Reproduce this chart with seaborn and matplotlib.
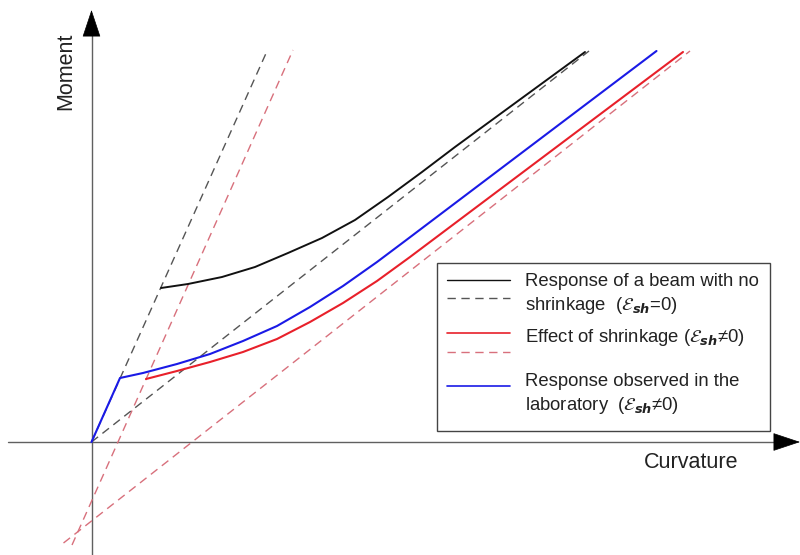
import matplotlib
matplotlib.use("Agg")
import matplotlib.pyplot as plt
import seaborn as sns
import pandas as pd
from matplotlib.patches import Rectangle

# ---------------- data (curvature, moment) ----------------
no_shrink_x = [69.5, 96.5, 130.5, 163.5, 196.5, 230.5, 263.5, 296.5, 330.5, 363.5, 493.5]
no_shrink_y = [154, 158, 165, 175, 189, 204, 222, 245, 270, 295, 390]

lab_x = [0, 28.5, 51.5, 85.5, 118.5, 151.5, 185.5, 218.5, 251.5, 285.5, 313.5, 565]
lab_y = [0, 64, 69, 78, 88, 101, 116, 135, 156, 180, 201, 391]

shrink_x = [54.5, 85.5, 118.5, 151.5, 185.5, 218.5, 251.5, 285.5, 318.5, 591.5]
shrink_y = [63, 71, 80, 90, 103, 120, 139, 161, 185, 390]

# dashed reference lines (end points)
uncracked_x = [0, 176]
uncracked_y = [0, 392]
uncracked_sh_x = [-19.5, 201.5]
uncracked_sh_y = [-103, 392]
cracked_x = [0, 497.5]
cracked_y = [0, 391]
cracked_sh_x = [-28, 598.5]
cracked_sh_y = [-101, 391]

x_label = "Curvature"
y_label = "Moment"
legend_texts = [
    "Response of a beam with no",
    r"shrinkage  ($\mathcal{E}_{\mathbfit{sh}}$=0)",
    r"Effect of shrinkage ($\mathcal{E}_{\mathbfit{sh}}$≠0)",
    "Response observed in the",
    r"laboratory  ($\mathcal{E}_{\mathbfit{sh}}$≠0)",
]

# ---------------- style ----------------
sns.set_theme(style="white")
plt.rcParams["font.family"] = ["Liberation Sans", "DejaVu Sans"]
plt.rcParams["mathtext.fontset"] = "dejavusans"

fig = plt.figure(figsize=(8, 5.55), dpi=100)
ax = fig.add_axes([0, 0, 1, 1])
ax.set_xlim(-91.5, 708.5)
ax.set_ylim(-113, 442)
ax.set_axis_off()

BLACK = "#111111"
BLACK_D = "#555555"
RED = "#e8202a"
RED_D = "#d8707c"
BLUE = "#1a1ae6"
dash = (0, (6, 4))

def line(xs, ys, color, lw, ls="-", z=3):
    df = pd.DataFrame({"x": xs, "y": ys})
    sns.lineplot(data=df, x="x", y="y", ax=ax, color=color, lw=lw,
                 linestyle=ls, sort=False, estimator=None, zorder=z)

line(uncracked_x, uncracked_y, BLACK_D, 1.0, dash)
line(uncracked_sh_x, uncracked_sh_y, RED_D, 1.0, dash)
line(cracked_x, cracked_y, BLACK_D, 1.0, dash)
line(cracked_sh_x, cracked_sh_y, RED_D, 1.0, dash)
line(no_shrink_x, no_shrink_y, BLACK, 1.4)
line(shrink_x, shrink_y, RED, 1.5)
line(lab_x, lab_y, BLUE, 1.5)

# axes with arrows
AX_C = "#606060"
ax.plot([-83.5, 690], [0, 0], color=AX_C, lw=1.0, zorder=2)
ax.plot([0, 0], [-113, 410], color=AX_C, lw=1.0, zorder=2)
ax.annotate("", xy=(708.5, 0), xytext=(688, 0),
            arrowprops=dict(arrowstyle="-|>,head_length=0.9,head_width=0.3",
                            color="black", lw=0.5, mutation_scale=20,
                            shrinkA=0, shrinkB=0))
ax.annotate("", xy=(0, 432), xytext=(0, 408),
            arrowprops=dict(arrowstyle="-|>,head_length=0.9,head_width=0.3",
                            color="black", lw=0.5, mutation_scale=20,
                            shrinkA=0, shrinkB=0))

fx = lambda px: px / 800
fy = lambda py: 1 - py / 555

ax.text(fx(691), fy(462), x_label, transform=ax.transAxes, ha="center",
        va="center", fontsize=15.5, color="#222222")
ax.text(fx(66), fy(71), y_label, transform=ax.transAxes, ha="center",
        va="center", rotation=90, fontsize=15.5, color="#222222")

# legend box
ax.add_patch(Rectangle((fx(437), fy(431)), fx(770) - fx(437), fy(263) - fy(431),
                       transform=ax.transAxes, facecolor="white",
                       edgecolor="#444444", lw=1.0, zorder=5))
samples = [(280, BLACK, "-", 1.0), (298, BLACK_D, dash, 1.0),
           (333, RED, "-", 1.2), (352, RED_D, dash, 1.0), (386, BLUE, "-", 1.2)]
for py, c, ls, lw in samples:
    ax.plot([fx(447), fx(510)], [fy(py), fy(py)], transform=ax.transAxes,
            color=c, linestyle=ls, lw=lw, zorder=6)
for py, t in zip([282, 305, 337, 381, 405], legend_texts):
    ax.text(fx(525), fy(py), t, transform=ax.transAxes, ha="left", va="center",
            fontsize=13.3, color="#222222", zorder=6)

fig.savefig("out.png", dpi=100)
